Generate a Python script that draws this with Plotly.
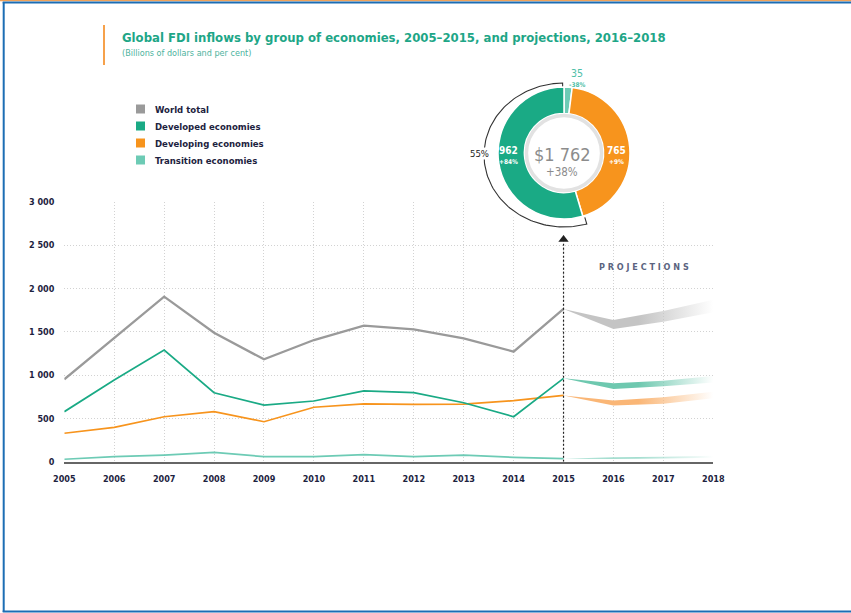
import numpy as np
import plotly.graph_objects as go

W, H = 851, 613

# ---------------- data ----------------
years = [2005, 2006, 2007, 2008, 2009, 2010, 2011, 2012, 2013, 2014, 2015]
world = [951, 1424, 1904, 1488, 1181, 1404, 1570, 1527, 1424, 1270, 1762]
developed = [577, 943, 1289, 796, 654, 700, 817, 796, 680, 519, 962]
developing = [328, 397, 519, 577, 461, 628, 668, 662, 665, 704, 765]
transition = [28, 58, 77, 108, 58, 58, 82, 58, 77, 51, 35]

proj_years = [2016, 2017, 2018]
world_low = [1530, 1615, 1725]
world_high = [1635, 1740, 1870]
developed_low = [840, 870, 915]
developed_high = [905, 935, 990]
developing_low = [648, 668, 732]
developing_high = [705, 745, 808]
transition_low = [32, 38, 45]
transition_high = [52, 58, 68]

x_ticks = list(range(2005, 2019))
x_ticktext = [str(y) for y in x_ticks]
y_ticks = [0, 500, 1000, 1500, 2000, 2500, 3000]
y_ticktext = ["0", "500", "1 000", "1 500", "2 000", "2 500", "3 000"]

donut_labels = ["Transition economies", "Developing economies", "Developed economies"]
donut_values = [35, 765, 962]
donut_change = ["-38%", "+9%", "+84%"]
world_2015_change = "+38%"

series_names = ["World total", "Developed economies", "Developing economies", "Transition economies"]

# ---------------- styles ----------------
FONT = "DejaVu Sans Condensed, Liberation Sans Narrow, sans-serif"
C_WORLD = "#9a9a9a"
C_DEV = "#1aaa85"
C_DVG = "#f7941d"
C_TRN = "#6dcbb5"
NAVY = "#1d2340"

band_cols = {
    "World total": (196, 196, 196),
    "Developed economies": (110, 200, 175),
    "Developing economies": (250, 182, 118),
    "Transition economies": (165, 222, 208),
}

fig = go.Figure()

# projection bands with fading gradient
bands = [
    ("World total", world, world_low, world_high),
    ("Developed economies", developed, developed_low, developed_high),
    ("Developing economies", developing, developing_low, developing_high),
    ("Transition economies", transition, transition_low, transition_high),
]
for name, actual, lo, hi in bands:
    r, g, b = band_cols[name]
    c1 = "rgba(%d,%d,%d,1)" % (r, g, b)
    c0 = "rgba(%d,%d,%d,0.0)" % (r, g, b)
    xs = [years[-1]] + proj_years + proj_years[::-1] + [years[-1]]
    ys = [actual[-1]] + hi + lo[::-1] + [actual[-1]]
    fig.add_trace(go.Scatter(
        x=xs, y=ys, mode="none", fill="toself",
        fillgradient=dict(type="horizontal",
                          colorscale=[[0, c1], [0.5, c1], [1, c0]]),
        hoverinfo="skip", showlegend=False, name=name + " projection"))

# dotted arrow at 2015
fig.add_shape(type="line", xref="x", yref="y", x0=2015, x1=2015, y0=0, y1=2530,
              line=dict(color="#222222", width=1.2, dash="2px,2px"), layer="above")
fig.add_trace(go.Scatter(x=[2015], y=[2565], mode="markers",
                         marker=dict(symbol="triangle-up", size=9, color="#222222"),
                         hoverinfo="skip", showlegend=False))

# actual lines
for name, vals, col, wdt in [
    ("Transition economies", transition, C_TRN, 1.7),
    ("Developing economies", developing, C_DVG, 1.7),
    ("Developed economies", developed, C_DEV, 1.7),
    ("World total", world, C_WORLD, 2.3),
]:
    fig.add_trace(go.Scatter(x=years, y=vals, mode="lines", name=name,
                             line=dict(color=col, width=wdt), showlegend=False))

# ---------------- donut ----------------
cx, cy, R = 564, 153, 66
HOLE = 0.6
fig.add_shape(type="circle", xref="x2", yref="y2", x0=cx - 82, x1=cx + 82,
              y0=cy - 82, y1=cy + 82, fillcolor="white", line=dict(width=0),
              layer="below")

total = sum(donut_values)
dev_share = donut_values[2] / total
theta0 = 360 * (1 - dev_share)
th = np.radians(np.linspace(theta0, 359.0, 120))
Rx, Ry, acy = 80, 72, 155
ax_ = cx + Rx * np.sin(th)
ay_ = acy - Ry * np.cos(th)
hx0 = [cx + (Rx - 7) * np.sin(th[0]), ax_[0]]
hy0 = [acy - (Ry - 7) * np.cos(th[0]), ay_[0]]
hx1 = [ax_[-1], cx + (Rx - 6) * np.sin(th[-1])]
hy1 = [ay_[-1], acy - (Ry - 6) * np.cos(th[-1])]
fig.add_trace(go.Scatter(x=hx0 + list(ax_) + hx1, y=hy0 + list(ay_) + hy1,
                         xaxis="x2", yaxis="y2", mode="lines",
                         line=dict(color="#333333", width=1.1),
                         hoverinfo="skip", showlegend=False))

fig.add_trace(go.Pie(
    labels=donut_labels, values=donut_values, sort=False, direction="clockwise",
    rotation=0, hole=HOLE, textinfo="none", showlegend=False,
    marker=dict(colors=[C_TRN, C_DVG, C_DEV], line=dict(color="white", width=1.5)),
    domain=dict(x=[(cx - R) / W, (cx + R) / W], y=[1 - (cy + R) / H, 1 - (cy - R) / H])))

hr = R * HOLE - 2
fig.add_shape(type="circle", xref="x2", yref="y2", x0=cx - hr, x1=cx + hr,
              y0=cy - hr, y1=cy + hr, line=dict(color="#e2e2e2", width=3.5),
              layer="above")

anns = []
def txt(x, y, s, size, color, bold=True, xanchor="center", bg=None):
    d = dict(x=x, y=y, xref="x2", yref="y2", text=s, showarrow=False,
             xanchor=xanchor, yanchor="middle",
             font=dict(family=FONT, size=size, color=color,
                       weight="bold" if bold else "normal"))
    if bg:
        d["bgcolor"] = bg
        d["borderpad"] = 0
    anns.append(d)

txt(508, 150, str(donut_values[2]), 10, "white")
txt(508, 162, donut_change[2], 6.5, "white")
txt(616, 150, str(donut_values[1]), 10, "white")
txt(616, 162, donut_change[1], 6.5, "white")
txt(577, 73, str(donut_values[0]), 10.5, "#4fc0a8", bold=False)
txt(577, 85, donut_change[0], 6.5, "#4fc0a8")
txt(562, 154, "$%d %03d" % (total // 1000, total % 1000), 18, "#8c8c8c", bold=False)
txt(562, 172, world_2015_change, 11.5, "#8c8c8c", bold=False)
txt(479, 153, "%d%%" % round(dev_share * 100), 9.5, "#222222", bold=False, bg="white")

# title / subtitle
txt(120, 37, "Global FDI inflows by group of economies, 2005\u20132015, and projections, 2016\u20132018",
    13, "#1ea687", xanchor="left")
txt(120, 53, "(Billions of dollars and per cent)", 9, "#4db39e", bold=False, xanchor="left")

# legend
leg_cols = [C_WORLD, C_DEV, C_DVG, C_TRN]
shapes = []
for i, (nm, col) in enumerate(zip(series_names, leg_cols)):
    yy = 109 + i * 17
    shapes.append(dict(type="rect", xref="x2", yref="y2", x0=136, x1=145,
                       y0=yy - 4.5, y1=yy + 4.5, fillcolor=col, line=dict(width=0)))
    txt(153, yy, nm, 9.5, NAVY, xanchor="left")

# projections label
txt(644, 267, "P R O J E C T I O N S", 9, "#5b6480")

# orange bar next to title
shapes.append(dict(type="line", xref="x2", yref="y2", x0=104, x1=104, y0=25, y1=65,
                   line=dict(color="#f6a14b", width=2)))
# frame
shapes.append(dict(type="line", xref="x2", yref="y2", x0=0, x1=W, y0=0.6, y1=0.6,
                   line=dict(color="#f0a35a", width=1.3)))
shapes.append(dict(type="line", xref="x2", yref="y2", x0=2.7, x1=W, y0=2.6, y1=2.6,
                   line=dict(color="#1c6db4", width=2)))
shapes.append(dict(type="line", xref="x2", yref="y2", x0=3.7, x1=3.7, y0=2, y1=612,
                   line=dict(color="#1c6db4", width=2)))
shapes.append(dict(type="line", xref="x2", yref="y2", x0=2.7, x1=W, y0=611.6, y1=611.6,
                   line=dict(color="#1c6db4", width=2)))
for s in shapes:
    fig.add_shape(**s)

x0p, x1p = 64.3, 713.3
y0p, y1p = 461.7, 201.7
GRID = dict(showgrid=True, gridcolor="#d2d2d2", griddash="1px,2px", gridwidth=1)
fig.update_layout(
    width=W, height=H, template="none",
    margin=dict(l=0, r=0, t=0, b=0, pad=0),
    paper_bgcolor="white", plot_bgcolor="rgba(0,0,0,0)",
    showlegend=False, annotations=anns,
    font=dict(family=FONT, color=NAVY),
    xaxis=dict(domain=[x0p / W, x1p / W], range=[2005, 2018], tickvals=x_ticks,
               ticktext=x_ticktext, **GRID,
               showline=True, linecolor="#666666", linewidth=2,
               zeroline=False, ticks="", ticklabelstandoff=7, automargin=False,
               tickfont=dict(family=FONT, size=9, color=NAVY, weight="bold"),
               fixedrange=True, anchor="y"),
    yaxis=dict(domain=[(H - y0p) / H, (H - y1p) / H], range=[0, 3000], tickvals=y_ticks,
               ticktext=y_ticktext, **GRID,
               showline=False, zeroline=False, ticks="",
               ticklabelstandoff=9, automargin=False,
               tickfont=dict(family=FONT, size=9, color=NAVY, weight="bold"),
               fixedrange=True, anchor="x"),
    xaxis2=dict(domain=[0, 1], range=[0, W], visible=False, fixedrange=True,
                anchor="y2", automargin=False),
    yaxis2=dict(domain=[0, 1], range=[H, 0], visible=False, fixedrange=True,
                anchor="x2", automargin=False),
)

fig.write_html("out.html", config={"displayModeBar": False},
               post_script="document.body.style.margin='0';document.body.style.overflow='hidden';")
